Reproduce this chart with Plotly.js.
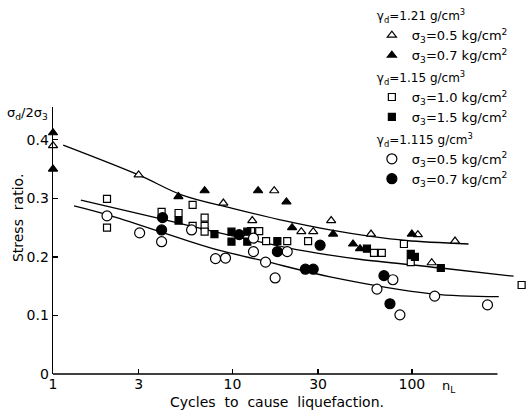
<!DOCTYPE html>
<html>
<head>
<meta charset="utf-8">
<script src="https://cdn.plot.ly/plotly-3.0.1.min.js"></script>
<style>html,body{margin:0;padding:0;background:#fff;}#chart{width:526px;height:410px;}</style>
</head>
<body>
<div id="chart"></div>
<script>
// γd=1.21, σ3=0.5 (open triangles)
const triOpenX = [1, 3, 8.9, 12.9, 17.1, 24.2, 28.2, 35.5, 59.2, 108, 174, 129];
const triOpenY = [0.39, 0.34, 0.292, 0.262, 0.313, 0.243, 0.243, 0.262, 0.239, 0.238, 0.227, 0.19];
// γd=1.21, σ3=0.7 (filled triangles)
const triFillX = [1, 1, 5.0, 7.0, 13.9, 20, 21.5, 36.4, 47, 51.4, 100];
const triFillY = [0.412, 0.35, 0.303, 0.313, 0.313, 0.294, 0.25, 0.239, 0.222, 0.214, 0.239];
// γd=1.15, σ3=1.0 (open squares)
const sqOpenX = [2, 2, 4.03, 5.01, 6.0, 6.0, 7.0, 7.0, 7.0, 12.7, 14.1, 15.4, 20.2, 26.4, 61.5, 68, 90.3, 98.6, 409];
const sqOpenY = [0.299, 0.25, 0.277, 0.275, 0.289, 0.253, 0.267, 0.253, 0.243, 0.244, 0.244, 0.227, 0.227, 0.227, 0.207, 0.207, 0.222, 0.191, 0.152];
// γd=1.15, σ3=1.5 (filled squares)
const sqFillX = [5.01, 7.94, 9.88, 9.88, 12.1, 12.1, 17.8, 56.2, 98.6, 104, 145];
const sqFillY = [0.262, 0.239, 0.243, 0.226, 0.243, 0.226, 0.227, 0.214, 0.205, 0.2, 0.181];
// γd=1.115, σ3=0.5 (open circles)
const cirOpenX = [2.0, 3.04, 4.03, 5.92, 8.05, 9.15, 13.1, 13.1, 15.3, 17.3, 20.2, 78.4, 63.9, 85.8, 134, 264];
const cirOpenY = [0.27, 0.241, 0.226, 0.246, 0.197, 0.198, 0.232, 0.209, 0.191, 0.164, 0.209, 0.161, 0.145, 0.101, 0.133, 0.118];
// γd=1.115, σ3=0.7 (filled circles)
const cirFillX = [4.08, 4.03, 10.9, 17.8, 25.5, 28.2, 30.8, 69.9, 75.5];
const cirFillY = [0.267, 0.246, 0.238, 0.209, 0.179, 0.179, 0.22, 0.168, 0.12];
// fitted curves
const curveAX = [1.14, 3, 5.2, 10, 20, 35, 59, 93, 207];
const curveAY = [0.391, 0.34, 0.306, 0.283, 0.261, 0.246, 0.235, 0.228, 0.222];
const curveBX = [1.43, 4, 6.56, 10, 20, 35, 51, 145, 369];
const curveBY = [0.297, 0.265, 0.249, 0.236, 0.216, 0.203, 0.196, 0.181, 0.167];
const curveCX = [1.31, 2, 5.08, 8.5, 15, 35, 129, 305];
const curveCY = [0.287, 0.272, 0.232, 0.211, 0.193, 0.166, 0.137, 0.132];

const xTicks = [1, 3, 10, 30, 100];
const xTickText = ['1', '3', '10', '30', '100'];
const yTicks = [0, 0.1, 0.2, 0.3, 0.4];
const yTickText = ['0', '0.1', '0.2', '0.3', '0.4'];
const xAxisEnd = 300; // drawn x-axis line ends here

const groupA = 'γ<sub>d</sub>=1.21 g/cm<sup>3</sup>';
const groupB = 'γ<sub>d</sub>=1.15 g/cm<sup>3</sup>';
const groupC = 'γ<sub>d</sub>=1.115 g/cm<sup>3</sup>';

const FONT = 'DejaVu Sans, sans-serif';

function pts(x, y, name, group, gtitle, symbol, size, filled) {
  return {
    x: x, y: y, type: 'scatter', mode: 'markers', name: name,
    legendgroup: group, legendgrouptitle: {text: gtitle, font: {size: 12, family: FONT, color: '#000'}},
    cliponaxis: false,
    marker: {symbol: symbol, size: size, color: filled ? '#000' : '#fff', line: {color: '#000', width: 1.2}}
  };
}
function curve(x, y) {
  return {x: x, y: y, type: 'scatter', mode: 'lines', line: {color: '#000', width: 1.3, shape: 'spline', smoothing: 1}, showlegend: false, hoverinfo: 'skip', cliponaxis: false};
}

const data = [
  curve(curveAX, curveAY), curve(curveBX, curveBY), curve(curveCX, curveCY),
  pts(triOpenX, triOpenY, 'σ<sub>3</sub>=0.5 kg/cm<sup>2</sup>', 'A', groupA, 'triangle-up', 8, false),
  pts(triFillX, triFillY, 'σ<sub>3</sub>=0.7 kg/cm<sup>2</sup>', 'A', groupA, 'triangle-up', 8, true),
  pts(sqOpenX, sqOpenY, 'σ<sub>3</sub>=1.0 kg/cm<sup>2</sup>', 'B', groupB, 'square', 7, false),
  pts(sqFillX, sqFillY, 'σ<sub>3</sub>=1.5 kg/cm<sup>2</sup>', 'B', groupB, 'square', 7, true),
  pts(cirOpenX, cirOpenY, 'σ<sub>3</sub>=0.5 kg/cm<sup>2</sup>', 'C', groupC, 'circle', 10, false),
  pts(cirFillX, cirFillY, 'σ<sub>3</sub>=0.7 kg/cm<sup>2</sup>', 'C', groupC, 'circle', 10, true)
];

const layout = {
  width: 526, height: 410,
  margin: {l: 53, r: 2, t: 107, b: 36, autoexpand: false},
  paper_bgcolor: '#fff', plot_bgcolor: '#fff',
  font: {family: FONT, color: '#000', size: 13},
  showlegend: true,
  legend: {x: 0.677, y: 1.396, xanchor: 'left', yanchor: 'top', bgcolor: 'rgba(0,0,0,0)',
    font: {size: 13, family: FONT, color: '#000'}, tracegroupgap: 3, traceorder: 'grouped', itemwidth: 30},
  xaxis: {type: 'log', range: [0, 2.625], showgrid: false, zeroline: false, showline: false,
    ticks: 'inside', ticklen: 5, tickwidth: 1.3, tickcolor: '#000', tickvals: xTicks, ticktext: xTickText,
    tickfont: {size: 14, family: FONT}},
  yaxis: {range: [0, 0.456], showgrid: false, zeroline: false, showline: true, linecolor: '#000', linewidth: 1.4,
    ticks: 'inside', ticklen: 5, tickwidth: 1.3, tickcolor: '#000', tickvals: yTicks, ticktext: yTickText,
    tickfont: {size: 14, family: FONT}},
  shapes: [
    {type: 'line', xref: 'x', yref: 'paper', x0: 1, x1: xAxisEnd, y0: 0, y1: 0, line: {color: '#000', width: 1.4}}
  ],
  annotations: [
    {text: 'Cycles  to  cause  liquefaction.', xref: 'paper', yref: 'paper', x: 0.476, y: -0.104, xanchor: 'center', yanchor: 'middle', showarrow: false, font: {size: 14, family: FONT}},
    {text: 'Stress  ratio.', xref: 'paper', yref: 'paper', x: -0.0743, y: 0.584, textangle: -90, xanchor: 'center', yanchor: 'middle', showarrow: false, font: {size: 14, family: FONT}},
    {text: 'σ<sub>d</sub>/2σ<sub>3</sub>', xref: 'paper', yref: 'paper', x: -0.006, y: 0.975, xanchor: 'right', yanchor: 'middle', showarrow: false, font: {size: 13, family: FONT}},
    {text: 'n<sub>L</sub>', xref: 'paper', yref: 'paper', x: 0.841, y: -0.045, xanchor: 'center', yanchor: 'middle', showarrow: false, font: {size: 13, family: FONT}}
  ]
};

Plotly.newPlot('chart', data, layout, {displayModeBar: false, staticPlot: true});
</script>
</body>
</html>
